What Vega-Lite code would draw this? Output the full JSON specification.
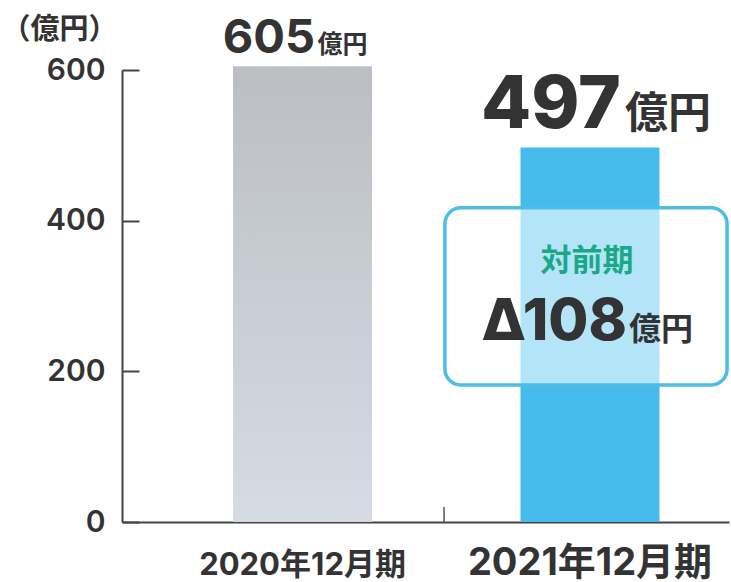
{
  "$schema": "https://vega.github.io/schema/vega-lite/v6.json",
  "autosize": "none",
  "width": 607,
  "height": 452,
  "padding": {"left": 122, "top": 70, "right": 2, "bottom": 60},
  "background": "white",
  "config": {"view": {"stroke": null}},
  "datasets": {
    "bars": [
      {"period": "2020年12月期", "value": 605},
      {"period": "2021年12月期", "value": 497}
    ],
    "note": [
      {"period": "2021年12月期", "heading": "対前期", "change": "Δ108", "unit": "億円"}
    ]
  },
  "data": {"name": "bars"},
  "layer": [
    {
      "transform": [{"filter": "datum.period === '2020年12月期'"}],
      "mark": {
        "type": "bar",
        "fill": {
          "gradient": "linear", "x1": 0, "y1": 0, "x2": 0, "y2": 1,
          "stops": [{"offset": 0, "color": "#bbbec4"}, {"offset": 1, "color": "#d6dbe4"}]
        }
      },
      "encoding": {
        "x": {
          "field": "period", "type": "nominal", "sort": null,
          "scale": {"paddingInner": 0.5165, "paddingOuter": 0.314, "align": 0.615},
          "axis": {
            "title": null,
            "ticks": false,
            "domainColor": "#444444",
            "domainWidth": 2,
            "labelAngle": 0,
            "labelLimit": 0,
            "labelFont": "Inter, Noto Sans CJK JP",
            "labelFontWeight": "bold",
            "labelColor": "#333333",
            "labelBaseline": "alphabetic",
            "labelPadding": 52,
            "labelFontSize": {"condition": {"test": "datum.value === '2021年12月期'", "value": 38}, "value": 31}
          }
        },
        "y": {
          "field": "value", "type": "quantitative",
          "scale": {"domain": [0, 600], "nice": false},
          "axis": {
            "values": [0, 200, 400, 600],
            "grid": false,
            "title": "（億円）",
            "titleAngle": 0,
            "titleAlign": "left",
            "titleBaseline": "top",
            "titleX": -121,
            "titleY": -55,
            "titleFont": "Noto Sans CJK JP",
            "titleFontSize": 29,
            "titleFontWeight": "bold",
            "titleColor": "#333333",
            "domainColor": "#444444",
            "domainWidth": 2,
            "tickColor": "#444444",
            "tickWidth": 2,
            "tickSize": -17,
            "labelPadding": 34,
            "labelFont": "Inter",
            "labelFontSize": 30,
            "labelFontWeight": 600,
            "labelColor": "#333333"
          }
        }
      }
    },
    {
      "transform": [{"filter": "datum.period === '2021年12月期'"}],
      "mark": {"type": "bar", "fill": "#45bceb"},
      "encoding": {
        "x": {"field": "period", "type": "nominal", "sort": null},
        "y": {"field": "value", "type": "quantitative"}
      }
    },
    {
      "data": {"name": "note"},
      "mark": {
        "type": "bar",
        "width": {"band": 2.03},
        "xOffset": -4,
        "cornerRadius": 16,
        "fill": "white",
        "fillOpacity": 0.6,
        "stroke": "#4dbde6",
        "strokeWidth": 3.5
      },
      "encoding": {
        "x": {"field": "period", "type": "nominal"},
        "y": {"datum": 182},
        "y2": {"datum": 417}
      }
    },
    {
      "transform": [{"filter": "datum.period === '2020年12月期'"}],
      "mark": {"type": "text", "align": "right", "baseline": "alphabetic", "dx": 12.5, "dy": -13, "font": "Inter", "fontSize": 47, "fontWeight": 700, "color": "#333333"},
      "encoding": {
        "x": {"field": "period", "type": "nominal"},
        "y": {"field": "value", "type": "quantitative"},
        "text": {"field": "value"}
      }
    },
    {
      "transform": [{"filter": "datum.period === '2020年12月期'"}],
      "mark": {"type": "text", "align": "left", "baseline": "alphabetic", "dx": 15, "dy": -13, "font": "Noto Sans CJK JP", "fontSize": 25, "fontWeight": "bold", "color": "#333333", "text": "億円"},
      "encoding": {
        "x": {"field": "period", "type": "nominal"},
        "y": {"field": "value", "type": "quantitative"}
      }
    },
    {
      "transform": [{"filter": "datum.period === '2021年12月期'"}],
      "mark": {"type": "text", "align": "right", "baseline": "alphabetic", "dx": 31, "dy": -20, "font": "Inter", "fontSize": 73, "fontWeight": 800, "color": "#333333"},
      "encoding": {
        "x": {"field": "period", "type": "nominal"},
        "y": {"field": "value", "type": "quantitative"},
        "text": {"field": "value"}
      }
    },
    {
      "transform": [{"filter": "datum.period === '2021年12月期'"}],
      "mark": {"type": "text", "align": "left", "baseline": "alphabetic", "dx": 35, "dy": -20, "font": "Noto Sans CJK JP", "fontSize": 43, "fontWeight": "bold", "color": "#333333", "text": "億円"},
      "encoding": {
        "x": {"field": "period", "type": "nominal"},
        "y": {"field": "value", "type": "quantitative"}
      }
    },
    {
      "data": {"name": "note"},
      "mark": {"type": "text", "align": "center", "baseline": "middle", "dx": -3, "font": "Noto Sans CJK JP", "fontSize": 31, "fontWeight": "bold", "color": "#1aa886"},
      "encoding": {
        "x": {"field": "period", "type": "nominal"},
        "y": {"datum": 345},
        "text": {"field": "heading"}
      }
    },
    {
      "data": {"name": "note"},
      "mark": {"type": "text", "align": "right", "baseline": "alphabetic", "dx": 37, "font": "Inter", "fontSize": 58, "fontWeight": 800, "color": "#333333"},
      "encoding": {
        "x": {"field": "period", "type": "nominal"},
        "y": {"datum": 242},
        "text": {"field": "change"}
      }
    },
    {
      "data": {"name": "note"},
      "mark": {"type": "text", "align": "left", "baseline": "alphabetic", "dx": 39, "font": "Noto Sans CJK JP", "fontSize": 32, "fontWeight": "bold", "color": "#333333"},
      "encoding": {
        "x": {"field": "period", "type": "nominal"},
        "y": {"datum": 242},
        "text": {"field": "unit"}
      }
    },
    {
      "data": {"name": "note"},
      "mark": {"type": "rule", "color": "#555555", "strokeWidth": 1.5},
      "encoding": {
        "x": {"field": "period", "type": "nominal", "bandPosition": -0.55},
        "y": {"datum": 0},
        "y2": {"datum": 20}
      }
    }
  ]
}
